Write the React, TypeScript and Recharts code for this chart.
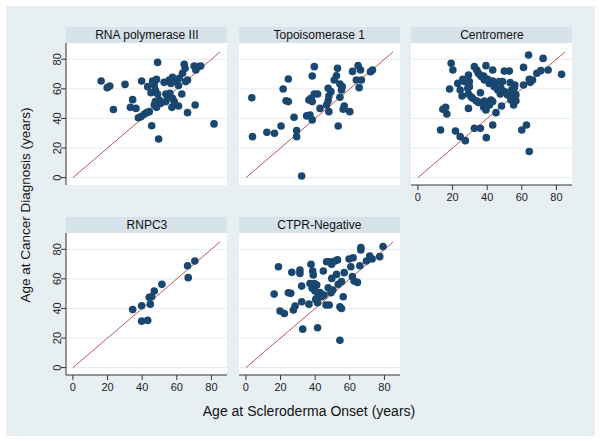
import { ScatterChart, Scatter, XAxis, YAxis, CartesianGrid, ReferenceLine } from "recharts";

// values (age at onset, age at cancer diagnosis)
const rnaPolOnset = [16.3, 19.8, 21.3, 23.4, 30.1, 39.7, 33.2, 34.5, 36.4, 37.8, 39.3, 41.2, 42.6, 44.1, 45.5, 48.9, 49.5, 43.2, 45.1, 46, 47, 48.3, 47.6, 48.9, 47.6, 47, 48.3, 49.9, 50.9, 52.7, 53.7, 54.7, 53.7, 55.6, 56.6, 57.5, 56, 57.5, 57.2, 58.5, 59.5, 61.4, 61, 62.9, 61, 63.3, 64.3, 64.8, 65.2, 66.2, 66.2, 70, 70.6, 71, 72.5, 73.8, 81.5];
const rnaPolDiag = [65.3, 60.8, 61.9, 46, 63, 65.3, 47.5, 52.7, 46.8, 40.5, 41.2, 42.8, 43.9, 44.6, 35.1, 77.9, 26.1, 61.5, 57.4, 65.3, 62.6, 66.4, 59.2, 56.5, 51.4, 49.1, 47.5, 52.5, 50.2, 64.4, 51.4, 54.7, 56.5, 66, 63.7, 67.8, 57, 53.6, 47.5, 51.4, 64.9, 67.1, 62.2, 56.5, 48.4, 70.5, 76.6, 73.9, 64.9, 66, 43.9, 75.5, 49.1, 72.7, 75, 75.5, 36.3];

const topoOnset = [3.4, 3.8, 12.1, 16.5, 20.3, 24.5, 21.5, 23.2, 24.5, 27.8, 29.3, 29.3, 32.2, 35.1, 37, 38.3, 36.4, 37.6, 38.3, 39.5, 41.4, 38.3, 39.5, 42.8, 46.6, 47.5, 47.9, 47.5, 49.1, 47.9, 53.3, 51, 52.3, 52.9, 54.3, 55.2, 55.6, 54.3, 56.8, 56.2, 60, 61.6, 64.8, 66.2, 63.8, 66.7, 65.4, 71.9, 73.1];
const topoDiag = [54, 27.7, 30.6, 30, 34.9, 66.7, 59.9, 52, 51.4, 40.8, 31.8, 27.7, 1.1, 41.7, 42.3, 39, 52.5, 53.6, 51.4, 56.5, 56.5, 68.7, 75, 46.8, 49.1, 52, 55.2, 60.4, 58.1, 44.6, 34.9, 66, 68.9, 73.9, 63.3, 59.2, 61.5, 54.3, 48.4, 46.2, 44.6, 71.8, 75.7, 72.7, 66, 66, 60.8, 71.6, 72.7];

const centroOnset = [19.2, 20.2, 18.3, 14.4, 16, 16.7, 13.1, 21.7, 24.4, 27.4, 23, 24.4, 25.9, 26.9, 25.5, 29.2, 29.7, 29.2, 29.2, 32.6, 32.6, 34, 34.9, 35.9, 31.6, 33.6, 36.1, 35, 36.8, 38, 36.1, 39.3, 39.5, 38.4, 38, 39.3, 39.9, 40.3, 41.2, 42.2, 43.2, 43.2, 44.1, 44.1, 43.2, 45.1, 46.1, 47.6, 48.3, 48.9, 49.9, 52.8, 51.8, 53.3, 54.1, 54.7, 55.3, 55.6, 56, 56.6, 61, 61, 60, 62.7, 63.9, 64.3, 64.9, 64.3, 68.7, 71, 72.3, 75.2, 83, 66.2, 38.4, 48, 49.9, 51.8, 53.7, 29.7, 28.8, 30.7, 34.5, 41.3, 43.2, 47, 55.6, 56.6];
const centroDiag = [77.3, 72.7, 59.9, 46.2, 47.5, 43, 32.2, 31.5, 27.7, 25, 63.7, 59.2, 66.4, 64.9, 55.2, 69.4, 61.5, 56.5, 46.8, 75, 33.3, 72.7, 70.5, 69.4, 53.6, 52, 57.4, 50.7, 68.2, 68.7, 33.3, 75.7, 27, 51.8, 47.5, 45.7, 48.4, 66.4, 63.7, 52.5, 72.7, 65.3, 62.6, 61.5, 35.6, 43.9, 59.2, 56.5, 48.4, 64.9, 72, 72, 57.4, 64.2, 59.2, 54.3, 49.1, 55.9, 62.6, 52, 74.5, 62.6, 32.2, 35.6, 82.9, 66.4, 64.4, 17.6, 70.5, 72.3, 80.6, 72.7, 69.8, 66, 66, 60.4, 58.1, 55.9, 52.5, 64.9, 60.4, 54.7, 51.4, 49.1, 51.4, 64.9, 60.4, 55.9];

const rnpc3Onset = [34.5, 39.7, 39.7, 43.2, 44.1, 45.5, 44.7, 47, 51.4, 66.2, 66.6, 70.4];
const rnpc3Diag = [39.3, 41.8, 31.4, 31.9, 47.5, 47.9, 42.9, 51.8, 56.3, 68.9, 60.8, 72.1];

const ctprOnset = [16.3, 18.8, 19.7, 22.2, 24.5, 25.9, 26.5, 27.4, 28.4, 31.2, 31.2, 32.2, 32.2, 32.8, 36.4, 37.6, 38.6, 38.9, 37, 38.3, 39.5, 38.3, 39.9, 40.9, 40.3, 41.4, 41.8, 41.4, 42.8, 43.7, 44.7, 45.1, 46.3, 47.5, 48.1, 49.1, 49.6, 50.2, 46.6, 48.5, 49.5, 51.4, 52.9, 52.3, 53.3, 54.3, 54.3, 55.2, 55.2, 56.2, 56.8, 59.6, 60.6, 61.5, 61.9, 62.5, 64.4, 65.8, 66.4, 66.4, 69.6, 71.5, 72.9, 77.3, 79.2];
const ctprDiag = [49.7, 68.2, 38.2, 36.6, 50.6, 50.2, 64.4, 38.9, 41.6, 66, 63.7, 55.1, 44.5, 26, 42.9, 69.8, 65.3, 62.6, 56.9, 55.8, 56.9, 53.6, 51.8, 55.8, 46.1, 43.8, 49, 26.9, 50.8, 47.9, 65.3, 49, 42.3, 54, 42.3, 50.6, 60.3, 52.4, 71.6, 71.6, 69.8, 72.1, 72.8, 63, 56.3, 18.5, 41.1, 40, 58.1, 47.9, 64.2, 73.4, 68.2, 61.5, 74.3, 58.5, 57.6, 68.9, 81.1, 79.5, 72.1, 75.5, 73.4, 75, 81.8];

const xTicks = [0, 20, 40, 60, 80];
const yTicks = [0, 20, 40, 60, 80];
const identityLine = [{ x: 0, y: 0 }, { x: 85, y: 85 }];

const FONT = '"Liberation Sans", Arial, Helvetica, sans-serif';
const NAVY = "#1a476f";
const LINE_RED = "#b9585e";
const BG = "#e8eff3";
const STRIP_BG = "#d7e3ea";

const PLOT_W = 161;
const PLOT_H = 142;
const STRIP_H = 16;
const Y_AXIS_W = 30;
const X_AXIS_H = 24;

const zip = (xs: number[], ys: number[]) => xs.map((x, i) => ({ x, y: ys[i] }));

const Dot = (props: any) => <circle cx={props.cx} cy={props.cy} r={3.8} fill={NAVY} />;

interface PanelProps {
  title: string;
  data: { x: number; y: number }[];
  left: number;
  top: number;
  showX: boolean;
  showY: boolean;
}

function Panel({ title, data, left, top, showX, showY }: PanelProps) {
  const yw = showY ? Y_AXIS_W : 0;
  const xh = showX ? X_AXIS_H : 0;
  return (
    <div style={{ position: "absolute", left: left - yw, top }}>
      <div
        style={{
          marginLeft: yw,
          width: PLOT_W,
          height: STRIP_H,
          lineHeight: STRIP_H + "px",
          background: STRIP_BG,
          fontFamily: FONT,
          fontSize: 12,
          color: "#111",
          textAlign: "center",
        }}
      >
        {title}
      </div>
      <ScatterChart width={yw + PLOT_W} height={PLOT_H + xh} margin={{ top: 0, right: 0, bottom: 0, left: 0 }}>
        <CartesianGrid vertical={false} stroke="#e3ebef" fill="#ffffff" horizontalValues={yTicks} />
        <XAxis
          type="number"
          dataKey="x"
          domain={[-4, 89]}
          ticks={xTicks}
          interval={0}
          allowDataOverflow
          hide={!showX}
          height={X_AXIS_H}
          tickSize={5}
          tickMargin={3}
          axisLine={{ stroke: "#333" }}
          tickLine={{ stroke: "#333" }}
          tick={{ fontSize: 11, fill: "#222", fontFamily: FONT }}
        />
        <YAxis
          type="number"
          dataKey="y"
          domain={[-5, 91]}
          ticks={yTicks}
          interval={0}
          allowDataOverflow
          hide={!showY}
          width={Y_AXIS_W}
          tickSize={5}
          tickMargin={4}
          axisLine={{ stroke: "#333" }}
          tickLine={{ stroke: "#333" }}
          tick={{
            angle: -90,
            textAnchor: "middle",
            verticalAnchor: "end",
            fontSize: 11,
            fill: "#222",
            fontFamily: FONT,
          }}
        />
        <ReferenceLine segment={identityLine} stroke={LINE_RED} strokeWidth={1} ifOverflow="visible" />
        <Scatter data={data} shape={<Dot />} isAnimationActive={false} />
      </ScatterChart>
    </div>
  );
}

export default function App() {
  return (
    <div style={{ position: "absolute", left: 0, top: 0, width: 601, height: 441, background: "#fff" }}>
      <div style={{ position: "absolute", left: 6, top: 6, width: 589, height: 430, background: BG }} />
      <Panel title="RNA polymerase III" data={zip(rnaPolOnset, rnaPolDiag)} left={66.4} top={27} showX={false} showY />
      <Panel title="Topoisomerase 1" data={zip(topoOnset, topoDiag)} left={238.8} top={27} showX={false} showY={false} />
      <Panel title="Centromere" data={zip(centroOnset, centroDiag)} left={411.4} top={27} showX showY={false} />
      <Panel title="RNPC3" data={zip(rnpc3Onset, rnpc3Diag)} left={66.4} top={217} showX showY />
      <Panel title="CTPR-Negative" data={zip(ctprOnset, ctprDiag)} left={238.8} top={217} showX showY={false} />
      <div style={{ position: "absolute", left: 26, top: 205, width: 0, height: 0 }}>
        <div
          style={{
            position: "absolute",
            left: -150,
            top: -9,
            width: 300,
            textAlign: "center",
            fontFamily: FONT,
            fontSize: 13.5,
            lineHeight: "18px",
            color: "#111",
            whiteSpace: "nowrap",
            transform: "rotate(-90deg)",
          }}
        >
          Age at Cancer Diagnosis (years)
        </div>
      </div>
      <div
        style={{
          position: "absolute",
          left: 159,
          top: 402,
          width: 300,
          textAlign: "center",
          fontFamily: FONT,
          fontSize: 14,
          lineHeight: "18px",
          color: "#111",
          whiteSpace: "nowrap",
        }}
      >
        Age at Scleroderma Onset (years)
      </div>
    </div>
  );
}
